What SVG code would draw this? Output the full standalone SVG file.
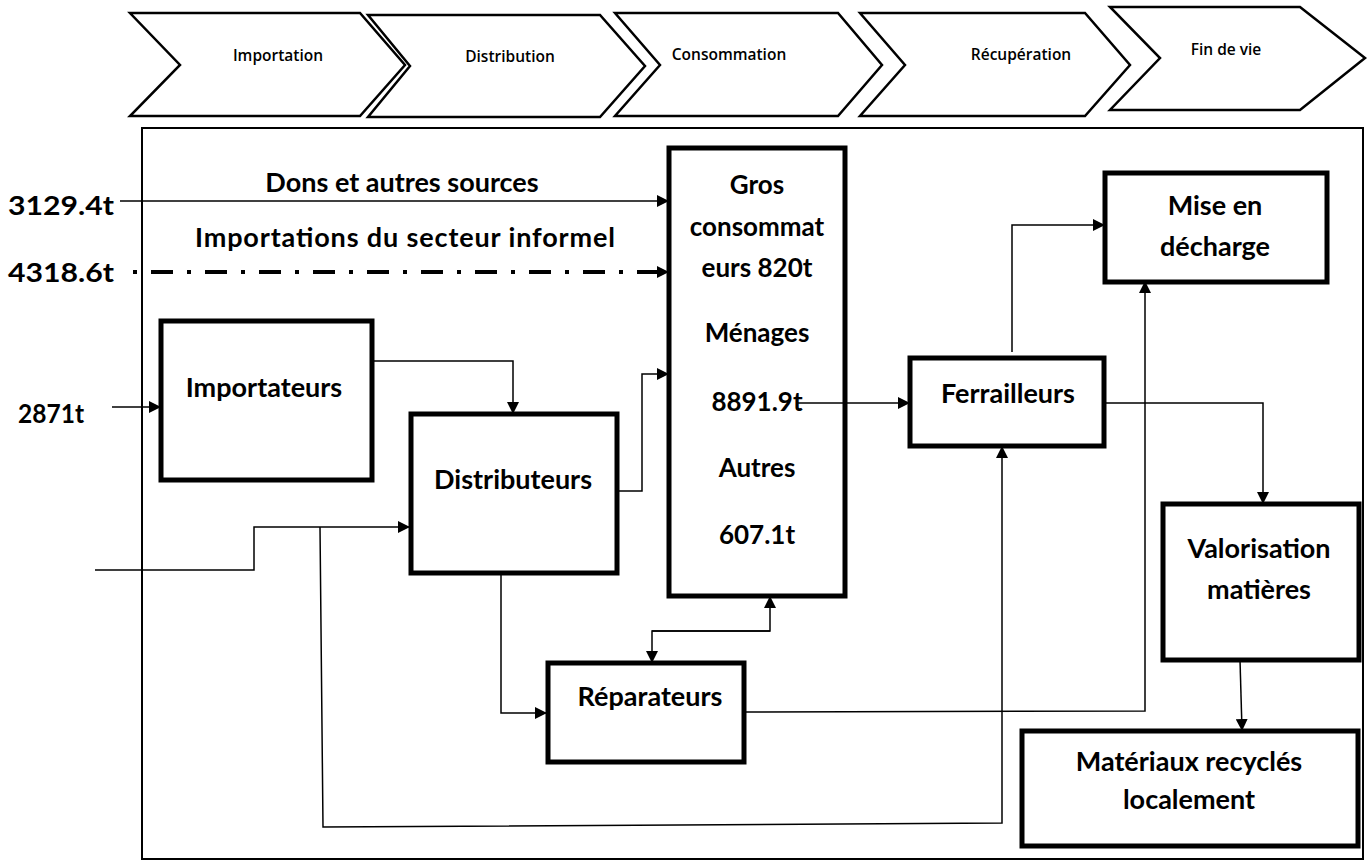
<svg xmlns="http://www.w3.org/2000/svg" width="1368" height="867" viewBox="0 0 1368 867">
<defs>
<marker id="ah" markerWidth="12" markerHeight="12" refX="11" refY="6" orient="auto" markerUnits="userSpaceOnUse">
<path d="M0,0 L12,6 L0,12 Z" fill="#000"/>
</marker>
<style>
.chev{fill:#fff;stroke:#000;stroke-width:2.5}
.ct{font-family:"Open Sans",Lato,sans-serif;font-weight:600;font-size:15.5px;fill:#000;text-anchor:middle}
.box{fill:#fff;stroke:#000;stroke-width:5}
.t{font-family:Lato,"Liberation Sans",sans-serif;font-weight:bold;font-size:27px;fill:#000;text-anchor:middle}
.g{font-size:26px}
.c{fill:none;stroke:#000;stroke-width:1.5}
</style>
</defs>
<rect width="1368" height="867" fill="#fff"/>
<g id="stages">
<g id="st-importation"><polygon class="chev" points="130,13 360,13 405,65 360,116 130,116 180,65"/><text class="ct" x="278" y="61">Importation</text></g>
<g id="st-distribution"><polygon class="chev" points="368,15 600,15 645,66 600,117 368,117 410,66"/><text class="ct" x="510" y="62">Distribution</text></g>
<g id="st-consommation"><polygon class="chev" points="615,13 838,13 882,65 838,116 615,116 660,65"/><text class="ct" x="729" y="60">Consommation</text></g>
<g id="st-recuperation"><polygon class="chev" points="860,13 1085,13 1130,65 1085,116 860,116 905,65"/><text class="ct" x="1021" y="60">Récupération</text></g>
<g id="st-findevie"><polygon class="chev" points="1110,7 1300,7 1365,58 1300,110 1110,110 1160,58"/><text class="ct" x="1226" y="55">Fin de vie</text></g>
</g>
<rect id="frame" x="142" y="128" width="1221" height="731" fill="none" stroke="#000" stroke-width="2"/>
<g id="labels">
<text class="t" x="61" y="215" textLength="106" lengthAdjust="spacingAndGlyphs">3129.4t</text>
<text class="t" x="61" y="282" textLength="106" lengthAdjust="spacingAndGlyphs">4318.6t</text>
<text class="t" x="51" y="423" textLength="66" lengthAdjust="spacingAndGlyphs">2871t</text>
<text class="t" x="402" y="192">Dons et autres sources</text>
<text class="t" x="405" y="247" textLength="420" lengthAdjust="spacing">Importations du secteur informel</text>
</g>
<g id="gros"><rect class="box" x="669" y="148" width="176" height="448"/>
<text class="t g" x="757" y="194">Gros</text>
<text class="t g" x="757" y="236">consommat</text>
<text class="t g" x="757" y="277">eurs 820t</text>
<text class="t g" x="757" y="342">Ménages</text>
<text class="t g" x="757" y="411">8891.9t</text>
<text class="t g" x="757" y="477">Autres</text>
<text class="t g" x="757" y="544">607.1t</text>
</g>
<g id="importateurs"><rect class="box" x="161" y="321" width="211" height="159"/><text class="t" x="264" y="397">Importateurs</text></g>
<g id="distributeurs"><rect class="box" x="411" y="414" width="206" height="159"/><text class="t" x="513" y="489">Distributeurs</text></g>
<g id="ferrailleurs"><rect class="box" x="910" y="358" width="194" height="88"/><text class="t" x="1008" y="403">Ferrailleurs</text></g>
<g id="decharge"><rect class="box" x="1105" y="173" width="222" height="109"/><text class="t" x="1215" y="215">Mise en</text><text class="t" x="1215" y="256">décharge</text></g>
<g id="valorisation"><rect class="box" x="1163" y="504" width="196" height="156"/><text class="t" x="1259" y="558">Valorisation</text><text class="t" x="1259" y="599">matières</text></g>
<g id="reparateurs"><rect class="box" x="548" y="663" width="196" height="99"/><text class="t" x="650" y="706">Réparateurs</text></g>
<g id="materiaux"><rect class="box" x="1022" y="731" width="336" height="115"/><text class="t" x="1189" y="771">Matériaux recyclés</text><text class="t" x="1189" y="809">localement</text></g>
<g id="connectors">
<line class="c" x1="120" y1="201" x2="668" y2="201" marker-end="url(#ah)"/>
<line x1="133" y1="272" x2="668" y2="272" stroke="#000" stroke-width="4" stroke-dasharray="4,14,22,14" marker-end="url(#ah)"/>
<line class="c" x1="112" y1="407" x2="160" y2="407" marker-end="url(#ah)"/>
<polyline class="c" points="372,361 513,361 513,413" marker-end="url(#ah)"/>
<polyline class="c" points="617,491 642,491 642,374 668,374" marker-end="url(#ah)"/>
<polyline class="c" points="95,570 254,570 254,527 409,527" marker-end="url(#ah)"/>
<polyline class="c" points="320,527 323,827 1002,823 1002,447" marker-end="url(#ah)"/>
<polyline class="c" points="501,573 501,713 546,713" marker-end="url(#ah)"/>
<polyline class="c" points="652,631 770,631 770,597" marker-end="url(#ah)"/>
<polyline class="c" points="770,631 652,631 652,662" marker-end="url(#ah)"/>
<polyline class="c" points="744,712 1145,711 1145,282" marker-end="url(#ah)"/>
<line class="c" x1="796" y1="403" x2="909" y2="403" marker-end="url(#ah)"/>
<polyline class="c" points="1012,352 1012,225 1104,225" marker-end="url(#ah)"/>
<polyline class="c" points="1104,403 1263,403 1263,503" marker-end="url(#ah)"/>
<line class="c" x1="1240" y1="660" x2="1242" y2="730" marker-end="url(#ah)"/>
</g>
</svg>
